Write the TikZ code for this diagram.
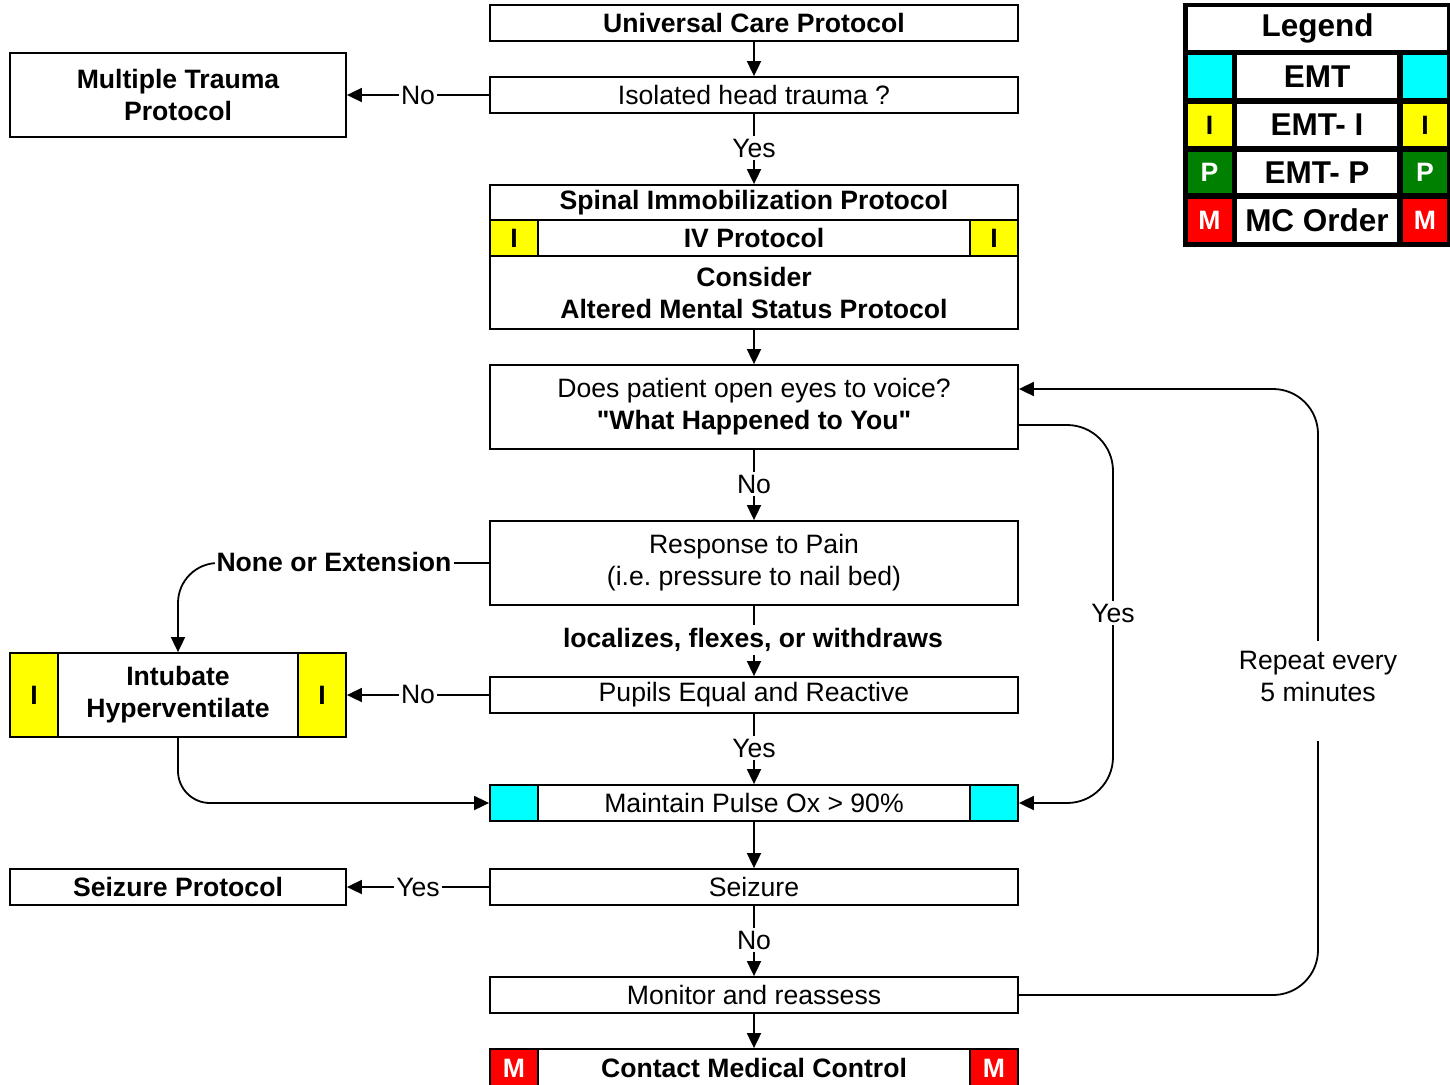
\documentclass[tikz,border=0pt]{standalone}
\usepackage{fontspec}
\setmainfont{Liberation Sans}[Ligatures=TeXOff]
\usetikzlibrary{arrows.meta}
\definecolor{tcyan}{RGB}{0,255,255}
\definecolor{tyellow}{RGB}{255,255,0}
\definecolor{tgreen}{RGB}{0,128,0}
\definecolor{tred}{RGB}{255,0,0}
\newcommand\fsz{\fontsize{26.6}{32}\selectfont}
\newcommand\fsleg{\fontsize{31.5}{36}\selectfont}
\tikzset{
  box/.style={draw, line width=1.8pt, inner sep=0pt, minimum width=528pt, minimum height=36pt, align=center, font=\fsz},
  bbox/.style={box, font=\bfseries\fsz},
  tagbox/.style={draw, line width=1.8pt, inner sep=0pt, minimum width=48pt, minimum height=36pt, font=\bfseries\fsz},
  conn/.style={line width=1.8pt, -{Triangle[length=15pt,width=14pt]}},
  lbl/.style={fill=white, inner xsep=2pt, inner ysep=3pt, align=center, font=\fsz},
  blbl/.style={lbl, font=\bfseries\fsz},
  legcell/.style={fill=white, inner sep=0pt, minimum height=43pt, font=\bfseries\fsleg},
  legtag/.style={inner sep=0pt, minimum height=43pt, minimum width=44pt, font=\bfseries\fsz}
}
\frenchspacing
\begin{document}
\begin{tikzpicture}[x=1pt,y=-1pt]
\useasboundingbox (0,0) rectangle (1450,1084);

% main column
\node[bbox] (ucp) at (754,23) {Universal Care Protocol};
\node[box] (iso) at (754,95) {Isolated head trauma ?};
\node[bbox, minimum width=336pt, minimum height=84pt] (mtp) at (178,95) {Multiple Trauma\\Protocol};
\node[bbox, minimum height=35pt] (spin) at (754,202.5) {Spinal Immobilization Protocol};
\node[bbox, minimum width=432pt] (ivp) at (754,238) {IV Protocol};
\node[tagbox, fill=tyellow] (ivl) at (514,238) {I};
\node[tagbox, fill=tyellow] (ivr) at (994,238) {I};
\node[bbox, minimum height=73pt] (cons) at (754,292.5) {Consider\\Altered Mental Status Protocol};
\node[box, minimum height=84pt] (eyes) at (754,407) {Does patient open eyes to voice?\\\textbf{"What Happened to You"}};
\node[box, minimum height=84pt] (pain) at (754,563) {Response to Pain\\(i.e. pressure to nail bed)};
\node[box] (pupil) at (754,695) {Pupils Equal and Reactive};
\node[bbox, minimum width=240pt, minimum height=84pt] (intub) at (178,695) {Intubate\\Hyperventilate};
\node[tagbox, fill=tyellow, minimum height=84pt] (intl) at (34,695) {I};
\node[tagbox, fill=tyellow, minimum height=84pt] (intr) at (322,695) {I};
\node[box, minimum width=432pt] (pulse) at (754,803) {Maintain Pulse Ox > 90\%};
\node[tagbox, fill=tcyan] (pl) at (514,803) {};
\node[tagbox, fill=tcyan] (pr) at (994,803) {};
\node[box] (seiz) at (754,887) {Seizure};
\node[bbox, minimum width=336pt] (seizp) at (178,887) {Seizure Protocol};
\node[box] (mon) at (754,995) {Monitor and reassess};
\node[bbox, minimum width=432pt, minimum height=38pt] (mcc) at (754,1068) {Contact Medical Control};
\node[tagbox, fill=tred, text=white, minimum height=38pt] (mccl) at (514,1068) {M};
\node[tagbox, fill=tred, text=white, minimum height=38pt] (mccr) at (994,1068) {M};

% connectors
\draw[conn] (ucp) -- (iso);
\draw[conn] (iso) -- (mtp);
\draw[conn] (iso) -- (spin);
\draw[conn] (cons) -- (eyes);
\draw[conn] (eyes) -- (pain);
\draw[conn, rounded corners=40pt] (pain.west) -- (178,563) -- (intub.north);
\draw[conn] (pain) -- (pupil);
\draw[conn] (pupil.west) -- (intr.east);
\draw[conn] (pupil) -- (pulse);
\draw[conn, rounded corners=32pt] (intub.south) -- (178,803) -- (pl.west);
\draw[conn, rounded corners=46pt] ([yshift=-18pt]eyes.east) -- (1113,425) -- (1113,803) -- (pr.east);
\draw[conn] (pulse) -- (seiz);
\draw[conn] (seiz) -- (seizp);
\draw[conn] (seiz) -- (mon);
\draw[conn] (mon) -- (mcc);
\draw[conn, rounded corners=45pt] (mon.east) -- (1318,995) -- (1318,389) -- ([yshift=18pt]eyes.east);

% labels
\node[lbl] (l1) at (418,95) {No};
\node[lbl] (l2) at (754,148) {Yes};
\node[lbl] (l3) at (754,484) {No};
\node[blbl] (l4) at (334,562) {None or Extension};
\node[blbl] (l5) at (753,640) {localizes, flexes, or withdraws};
\node[lbl] (l6) at (418,694) {No};
\node[lbl] (l7) at (754,748) {Yes};
\node[lbl] (l8) at (418,887) {Yes};
\node[lbl] (l9) at (754,940) {No};
\node[lbl] (l10) at (1113,613) {Yes};
\node[lbl, inner ysep=10pt, inner xsep=4pt] (l11) at (1318,691) {Repeat every\\5 minutes\rule[-30pt]{0pt}{30pt}};

% legend
\fill[black] (1183,3) rectangle (1450,247);
\node[legcell, minimum width=259pt] (leg) at (1317.5,28.5) {Legend};
\node[legtag, fill=tcyan] (lg1l) at (1209.5,76.5) {};
\node[legcell, minimum width=160pt] (lg1) at (1317,76.5) {EMT};
\node[legtag, fill=tcyan] (lg1r) at (1425,76.5) {};
\node[legtag, fill=tyellow, minimum height=42pt] (lg2l) at (1209.5,125) {I};
\node[legcell, minimum width=160pt, minimum height=42pt] (lg2) at (1317,125) {EMT- I};
\node[legtag, fill=tyellow, minimum height=42pt] (lg2r) at (1425,125) {I};
\node[legtag, fill=tgreen, text=white, minimum height=41pt] (lg3l) at (1209.5,172.5) {P};
\node[legcell, minimum width=160pt, minimum height=41pt] (lg3) at (1317,172.5) {EMT- P};
\node[legtag, fill=tgreen, text=white, minimum height=41pt] (lg3r) at (1425,172.5) {P};
\node[legtag, fill=tred, text=white] (lg4l) at (1209.5,220.5) {M};
\node[legcell, minimum width=160pt] (lg4) at (1317,220.5) {MC Order};
\node[legtag, fill=tred, text=white] (lg4r) at (1425,220.5) {M};
\end{tikzpicture}
\end{document}
